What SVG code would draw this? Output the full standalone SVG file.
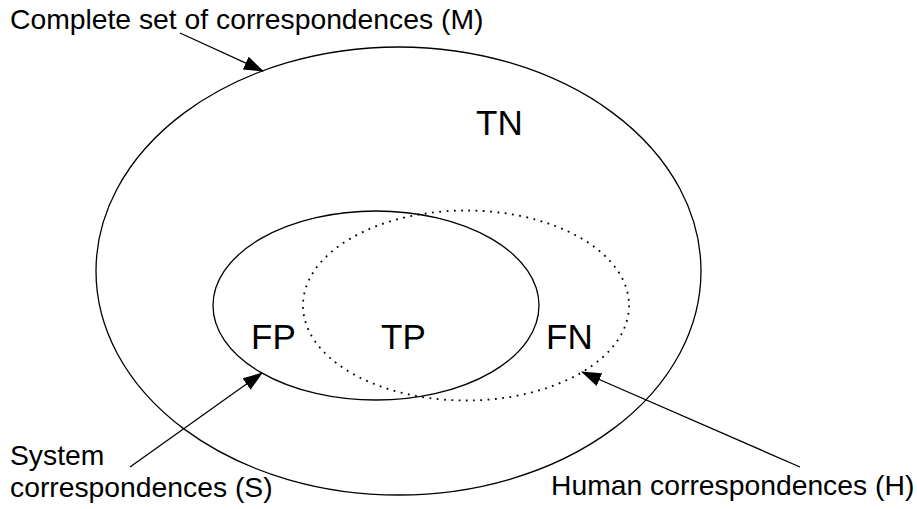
<svg xmlns="http://www.w3.org/2000/svg" width="917" height="509" viewBox="0 0 917 509">
<style>
.t{font-family:"Liberation Sans",Arial,sans-serif;fill:#000}
.lbl{font-size:28.3px}
.big{font-size:35px}
.sol{fill:none;stroke:#000;stroke-width:1.3}
.dot{fill:none;stroke:#000;stroke-width:1.8;stroke-dasharray:1.8 5.5}
.arr{fill:none;stroke:#000;stroke-width:1.3;marker-end:url(#ah)}
</style>
<defs>
<marker id="ah" markerUnits="userSpaceOnUse" markerWidth="20" markerHeight="14" viewBox="0 0 20 14" refX="19" refY="7" orient="auto">
<path d="M0,0 L20,7 L0,14 Z" fill="#000"/>
</marker>
</defs>
<rect width="917" height="509" fill="#fff"/>
<g id="M">
<ellipse class="sol" cx="398.5" cy="271" rx="302.5" ry="224"/>
<text class="t big" x="476" y="135">TN</text>
</g>
<g id="S">
<ellipse class="sol" cx="376" cy="305.5" rx="163" ry="94.5"/>
<text class="t big" x="251" y="349">FP</text>
</g>
<g id="H">
<ellipse class="dot" cx="466" cy="305.5" rx="163" ry="95"/>
<text class="t big" x="546" y="349">FN</text>
</g>
<g id="TP">
<text class="t big" x="381" y="349">TP</text>
</g>
<g id="labels">
<text class="t lbl" x="10" y="29">Complete set of correspondences (M)</text>
<text class="t lbl" x="10" y="465">System</text>
<text class="t lbl" x="10" y="497">correspondences (S)</text>
<text class="t lbl" x="551" y="495">Human correspondences (H)</text>
</g>
<g id="connectors">
<path class="arr" d="M180,33 L263,71"/>
<path class="arr" d="M130,467 L262,373"/>
<path class="arr" d="M800,467 L582,372"/>
</g>
</svg>
